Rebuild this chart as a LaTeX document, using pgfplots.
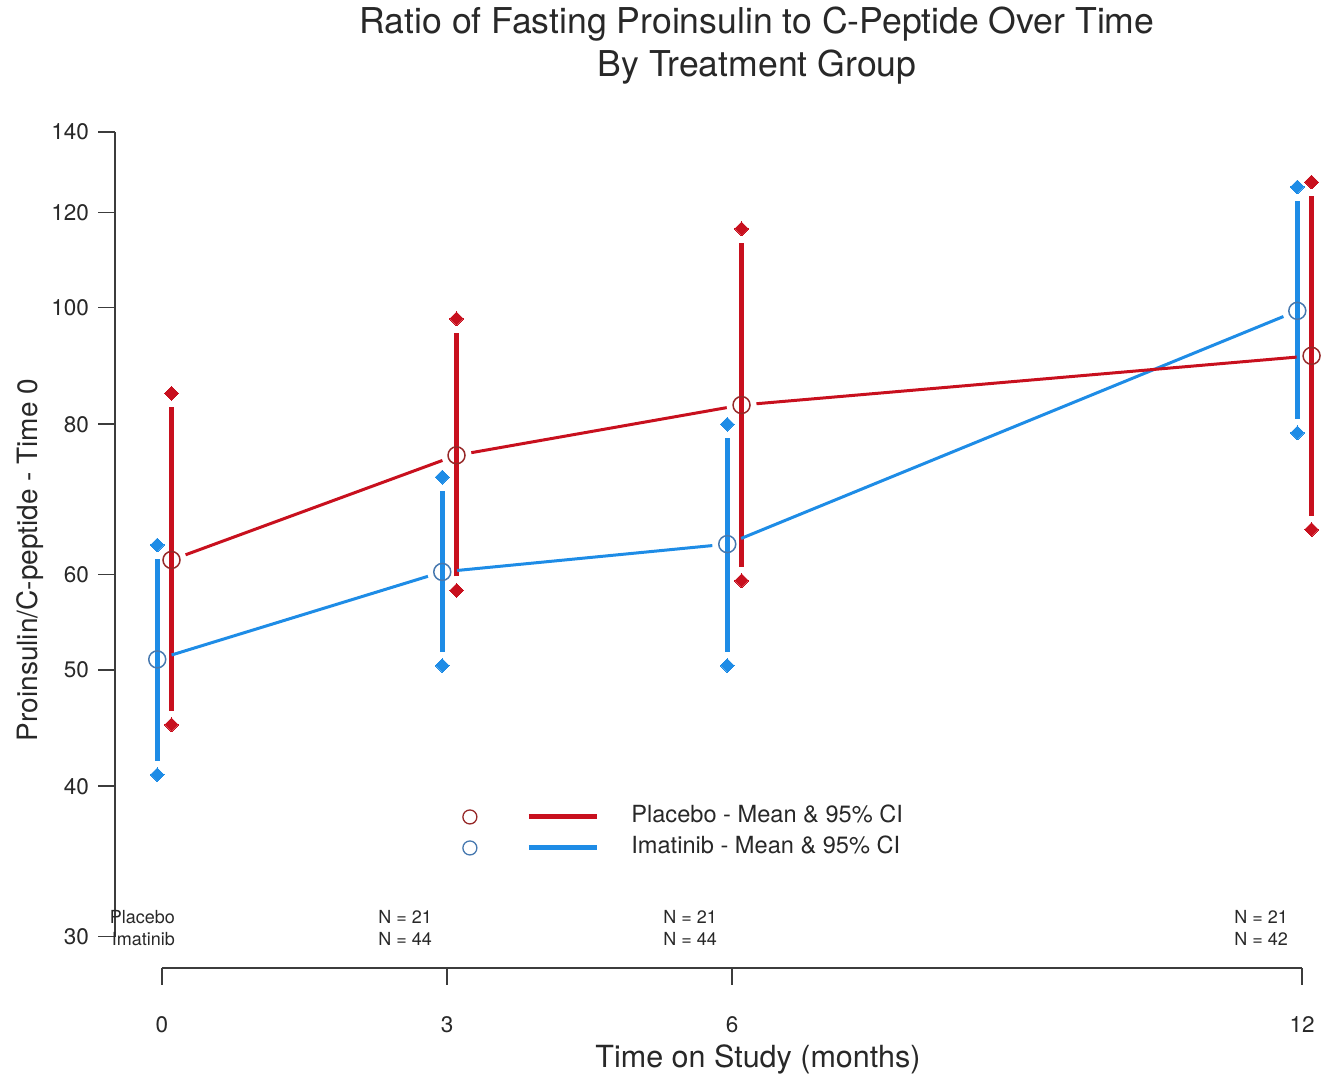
\documentclass[border=0pt]{standalone}
\usepackage{pgfplots}
\pgfplotsset{compat=1.18}
\usepackage{fontspec}
\setmainfont{TeX Gyre Heros}
\definecolor{pl}{RGB}{200,16,30}
\definecolor{im}{RGB}{30,140,230}
\definecolor{plc}{RGB}{150,40,40}
\definecolor{imc}{RGB}{70,120,175}
\definecolor{ax}{RGB}{60,60,60}
\definecolor{tx}{RGB}{40,40,40}

% x, mean, lower, upper
\pgfplotstableread{
x mean lo hi
0.1 61.7 45.0 84.9
3.1 75.4 58.2 97.9
6.1 83.0 59.3 116.3
12.1 91.2 65.4 127.2
}\placebo
\pgfplotstableread{
x mean lo hi
-0.05 51.0 40.9 63.5
2.95 60.3 50.4 72.3
5.95 63.6 50.4 80.0
11.95 99.4 78.7 126.0
}\imatinib

\begin{document}
\begin{tikzpicture}
\path[use as bounding box] (0,0) rectangle (1336pt,1083pt);
\begin{axis}[
  at={(115pt,115pt)}, anchor=south west,
  scale only axis, width=1205pt, height=836pt,
  xmin=-0.4947, xmax=12.189,
  ymode=log, ymin=28.25, ymax=140,
  axis x line*=bottom, axis y line*=left,
  axis line style={draw=none},
  tick align=outside, major tick length=17pt,
  tick style={ax, line width=1.6pt},
  minor tick style={draw=none},
  xtick={0,3,6,12}, xticklabels={0,3,6,12},
  ytick={30,40,50,60,80,100,120,140},
  yticklabels={30,40,50,60,80,100,120,140},
  tick label style={font=\fontsize{22.5}{26}\selectfont, text=tx, inner sep=0pt},
  /pgf/number format/assume math mode=true,
  xticklabel shift=31pt, yticklabel shift=9pt,
  clip=false,
  legend cell align=left,
  legend style={draw=none, fill=none, at={(0.2880,0.1621)}, anchor=west,
    inner sep=0pt, row sep=9pt, column sep=32pt,
    nodes={inner sep=0pt, text height=17pt, text depth=5pt,
      font=\fontsize{23.6}{27}\selectfont, text=tx}},
]
% axis lines (R style, spanning first to last tick)
\draw[ax, line width=1.6pt] (axis cs:0,28.25) -- (axis cs:12,28.25);
\draw[ax, line width=1.6pt] (axis cs:-0.4947,30) -- (axis cs:-0.4947,140);

\addlegendimage{legend image code/.code={\draw[plc, line width=1.3pt] (0pt,0pt) circle[radius=7pt]; \draw[pl, line width=5pt] (59pt,0pt) -- (127pt,0pt);}}
\addlegendentry{Placebo - Mean \& 95\% CI}
\addlegendimage{legend image code/.code={\draw[imc, line width=1.3pt] (0pt,0pt) circle[radius=7pt]; \draw[im, line width=5pt] (59pt,0pt) -- (127pt,0pt);}}
\addlegendentry{Imatinib - Mean \& 95\% CI}

% Imatinib CI bars
\addplot[im, line width=5pt, shorten <=14pt, shorten >=14pt, forget plot] coordinates {(-0.05,40.9) (-0.05,63.5)};
\addplot[im, line width=5pt, shorten <=14pt, shorten >=14pt, forget plot] coordinates {(2.95,50.4) (2.95,72.3)};
\addplot[im, line width=5pt, shorten <=14pt, shorten >=14pt, forget plot] coordinates {(5.95,50.4) (5.95,80.0)};
\addplot[im, line width=5pt, shorten <=14pt, shorten >=14pt, forget plot] coordinates {(11.95,78.7) (11.95,126.0)};
% Placebo CI bars
\addplot[pl, line width=5pt, shorten <=14pt, shorten >=14pt, forget plot] coordinates {(0.1,45.0) (0.1,84.9)};
\addplot[pl, line width=5pt, shorten <=14pt, shorten >=14pt, forget plot] coordinates {(3.1,58.2) (3.1,97.9)};
\addplot[pl, line width=5pt, shorten <=14pt, shorten >=14pt, forget plot] coordinates {(6.1,59.3) (6.1,116.3)};
\addplot[pl, line width=5pt, shorten <=14pt, shorten >=14pt, forget plot] coordinates {(12.1,65.4) (12.1,127.2)};

% Imatinib mean segments
\addplot[im, line width=3pt, shorten <=15pt, shorten >=15pt, forget plot] coordinates {(-0.05,51.0) (2.95,60.3)};
\addplot[im, line width=3pt, shorten <=15pt, shorten >=15pt, forget plot] coordinates {(2.95,60.3) (5.95,63.6)};
\addplot[im, line width=3pt, shorten <=15pt, shorten >=15pt, forget plot] coordinates {(5.95,63.6) (11.95,99.4)};
% Placebo mean segments
\addplot[pl, line width=3pt, shorten <=15pt, shorten >=15pt, forget plot] coordinates {(0.1,61.7) (3.1,75.4)};
\addplot[pl, line width=3pt, shorten <=15pt, shorten >=15pt, forget plot] coordinates {(3.1,75.4) (6.1,83.0)};
\addplot[pl, line width=3pt, shorten <=15pt, shorten >=15pt, forget plot] coordinates {(6.1,83.0) (12.1,91.2)};

% diamonds at CI limits
\addplot[only marks, mark=square*, mark size=4.9pt, mark options={rotate=45, fill=im, draw=im, line width=0pt}, forget plot] table[x=x, y=lo] {\imatinib};
\addplot[only marks, mark=square*, mark size=4.9pt, mark options={rotate=45, fill=im, draw=im, line width=0pt}, forget plot] table[x=x, y=hi] {\imatinib};
\addplot[only marks, mark=square*, mark size=4.9pt, mark options={rotate=45, fill=pl, draw=pl, line width=0pt}, forget plot] table[x=x, y=lo] {\placebo};
\addplot[only marks, mark=square*, mark size=4.9pt, mark options={rotate=45, fill=pl, draw=pl, line width=0pt}, forget plot] table[x=x, y=hi] {\placebo};

% mean circles
\addplot[only marks, mark=o, mark size=8.5pt, mark options={draw=imc, line width=1.5pt}, forget plot] table[x=x, y=mean] {\imatinib};
\addplot[only marks, mark=o, mark size=8.5pt, mark options={draw=plc, line width=1.5pt}, forget plot] table[x=x, y=mean] {\placebo};
\end{axis}

% titles and labels
\node[font=\fontsize{35.6}{40}\selectfont, text=tx, anchor=base] at (757pt,1049pt) {Ratio of Fasting Proinsulin to C-Peptide Over Time};
\node[font=\fontsize{35.6}{40}\selectfont, text=tx, anchor=base] at (757pt,1006pt) {By Treatment Group};
\node[font=\fontsize{30.5}{34}\selectfont, text=tx, anchor=base] at (758pt,15pt) {Time on Study (months)};
\node[font=\fontsize{28}{32}\selectfont, text=tx, anchor=base, rotate=90] at (37pt,523pt) {Proinsulin/C-peptide - Time 0};

% N at risk rows
\begin{scope}[every node/.style={font=\fontsize{18}{20}\selectfont, text=tx, inner sep=0pt, anchor=base east}]
\node at (175pt,159pt) {Placebo};
\node at (175pt,137pt) {Imatinib};
\node at (432pt,159pt) {N = 21};
\node at (432pt,137pt) {N = 44};
\node at (717pt,159pt) {N = 21};
\node at (717pt,137pt) {N = 44};
\node at (1288pt,159pt) {N = 21};
\node at (1288pt,137pt) {N = 42};
\end{scope}
\end{tikzpicture}
\end{document}
